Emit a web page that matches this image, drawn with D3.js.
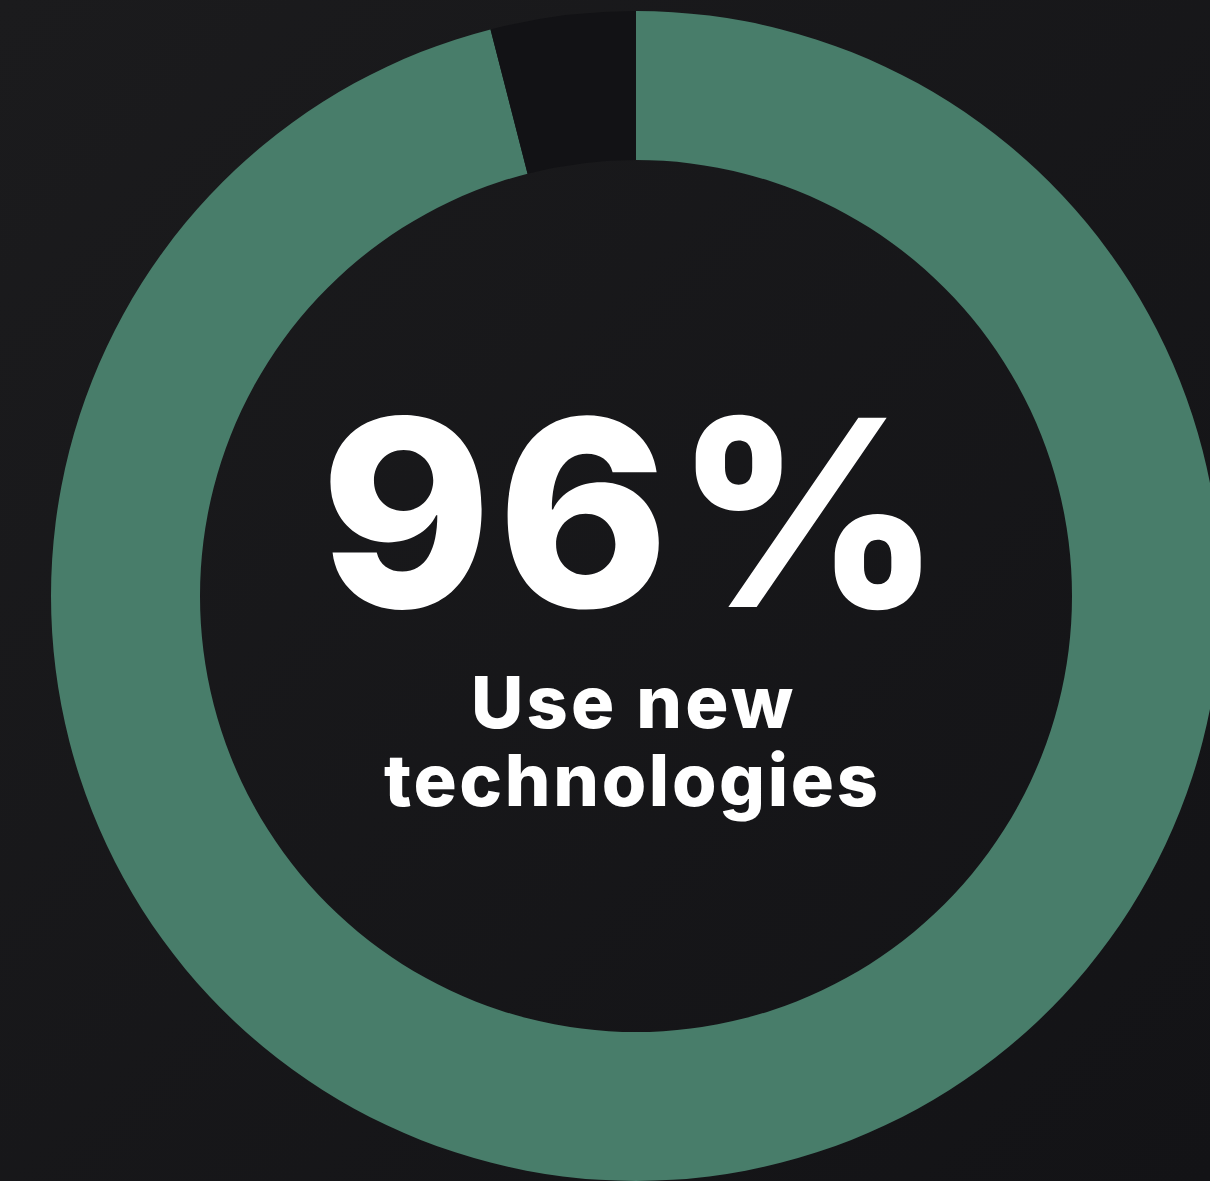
<!DOCTYPE html>
<html>
<head>
<meta charset="utf-8">
<script src="https://cdn.jsdelivr.net/npm/d3@7"></script>
<style>
  html, body { margin: 0; padding: 0; overflow: hidden; }
  body { width: 1210px; height: 1181px; }
  svg { display: block; }
</style>
</head>
<body>
<svg id="chart" width="1210" height="1181"></svg>
<script>
// chart values
const categories = ["Use new technologies", "Other"];
const values = [96, 4];
const colors = ["#487d6a", "#121215"];
const bigLabel = "96%";
const captionLines = ["Use new", "technologies"];

const svg = d3.select("#chart");
const width = 1210, height = 1181;
const cx = 636, cy = 596;
const outerR = 585, innerR = 436;

// background gradient
const defs = svg.append("defs");
const grad = defs.append("linearGradient")
  .attr("id", "bg")
  .attr("x1", "0").attr("y1", "0")
  .attr("x2", "1").attr("y2", "1");
grad.append("stop").attr("offset", "0%").attr("stop-color", "#1b1b1d");
grad.append("stop").attr("offset", "100%").attr("stop-color", "#131316");

svg.append("rect")
  .attr("width", width)
  .attr("height", height)
  .attr("fill", "url(#bg)");

const pie = d3.pie().sort(null).value(d => d);
const arc = d3.arc().innerRadius(innerR).outerRadius(outerR);

const g = svg.append("g").attr("transform", `translate(${cx},${cy})`);

g.selectAll("path")
  .data(pie(values))
  .enter()
  .append("path")
  .attr("d", arc)
  .attr("fill", (d, i) => colors[i]);

// center text
const font = "Inter, 'Open Sans', sans-serif";

function label(txt, x, y, size, len) {
  return svg.append("text")
    .attr("x", x)
    .attr("y", y)
    .attr("text-anchor", "middle")
    .attr("font-family", font)
    .attr("font-weight", 800)
    .attr("font-size", size)
    .attr("textLength", len)
    .attr("lengthAdjust", "spacing")
    .attr("fill", "#ffffff")
    .text(txt);
}

label(bigLabel, 631, 607, 260, 622);
label(captionLines[0], 632, 728, 72, 322);
label(captionLines[1], 631, 806, 72, 494);
</script>
</body>
</html>
